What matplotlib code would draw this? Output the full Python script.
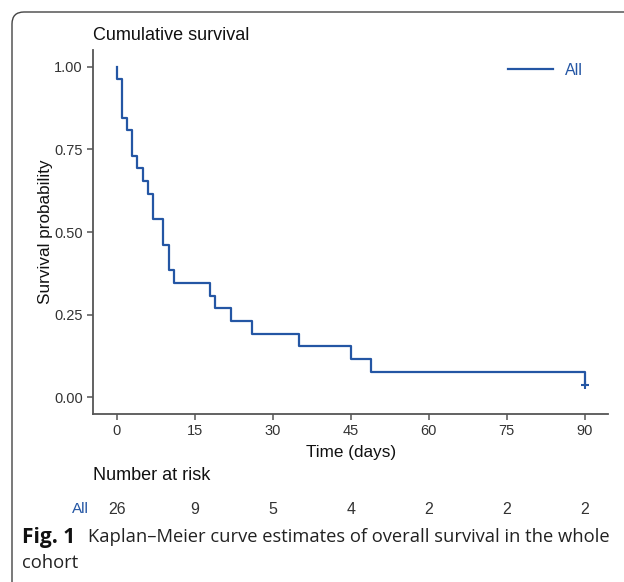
import matplotlib.pyplot as plt
from matplotlib.patches import FancyBboxPatch
import matplotlib.transforms as mtransforms

# Kaplan-Meier steps (days, survival)
km_time = [0, 0, 1, 2, 3, 4, 5, 6, 7, 9, 10, 11, 18, 19, 22, 26, 35, 45, 49, 90]
km_surv = [1.0, 0.962, 0.846, 0.808, 0.731, 0.692, 0.654, 0.615, 0.538, 0.462,
           0.385, 0.346, 0.308, 0.269, 0.231, 0.192, 0.154, 0.115, 0.077, 0.038]
censor_time = [90]
censor_surv = [0.038]

risk_times = [0, 15, 30, 45, 60, 75, 90]
risk_counts = [26, 9, 5, 4, 2, 2, 2]

x_ticks = [0, 15, 30, 45, 60, 75, 90]
y_ticks = [0.0, 0.25, 0.5, 0.75, 1.0]

blue = '#2456a4'
dark = '#333333'
spine_col = '#555555'

plt.rcParams['font.family'] = ['Liberation Sans', 'DejaVu Sans']

fig = plt.figure(figsize=(6.24, 5.82), dpi=100)
W, H = 624, 582
ax = fig.add_axes([93.3 / W, 1 - 414 / H, (608 - 93.3) / W, (414 - 50) / H])

ax.step(km_time, km_surv, where='post', color=blue, lw=1.6, label='All')
ax.plot(censor_time, censor_surv, marker='+', color=blue, ms=6, mew=1.5, ls='none')

ax.set_xlim(-4.5, 94.5)
ax.set_ylim(-0.05, 1.05)
ax.set_xticks(x_ticks)
ax.set_yticks(y_ticks)
ax.set_yticklabels(['%.2f' % v for v in y_ticks])
ax.tick_params(colors=spine_col, labelcolor=dark, labelsize=10.5, length=4, width=1.1)
for s in ['top', 'right']:
    ax.spines[s].set_visible(False)
for s in ['left', 'bottom']:
    ax.spines[s].set_color(spine_col)
    ax.spines[s].set_linewidth(1.3)

ax.set_xlabel('Time (days)', fontsize=12.3, color='#111111', labelpad=5)
ax.set_ylabel('Survival probability', fontsize=12.3, color='#111111')
ax.yaxis.set_label_coords(-0.078, 0.5)

leg = ax.legend(loc='upper right', bbox_to_anchor=(0.98, 1.005), frameon=False,
                handlelength=2.8, handletextpad=0.8, fontsize=11.5, labelcolor=blue)

fig.text(93 / W, 1 - 35 / H, 'Cumulative survival', fontsize=13, color='#111111',
         ha='left', va='center')
fig.text(93 / W, 1 - 475 / H, 'Number at risk', fontsize=13, color='#111111',
         ha='left', va='center')

row = mtransforms.blended_transform_factory(ax.transData, fig.transFigure)
fig.text(80 / W, 1 - 509 / H, 'All', fontsize=11, color=blue, ha='center', va='center')
for t, n in zip(risk_times, risk_counts):
    ax.text(t, 1 - 509 / H, str(n), transform=row, fontsize=11.5, color=dark,
            ha='center', va='center')

# caption of the paper figure
fig.text(22 / W, 1 - 537 / H, 'Fig. 1', fontsize=15, fontweight='bold',
         family=['Open Sans', 'DejaVu Sans'], ha='left', va='center', color='#111111')
fig.text(88 / W, 1 - 537 / H, 'Kaplan\u2013Meier curve estimates of overall survival in the whole',
         fontsize=13.2, family=['Open Sans', 'DejaVu Sans'], ha='left', va='center', color='#222222')
fig.text(22 / W, 1 - 563 / H, 'cohort', fontsize=13.2, family=['Open Sans', 'DejaVu Sans'],
         ha='left', va='center', color='#222222')

# rounded frame around the figure panel
box = FancyBboxPatch((0.12, -0.3), 7.0, 6.0, boxstyle='round,pad=0,rounding_size=0.12',
                     transform=fig.dpi_scale_trans, fill=False, ec='#444444', lw=1.0)
fig.patches.append(box)

fig.savefig('out.png', dpi=100)
